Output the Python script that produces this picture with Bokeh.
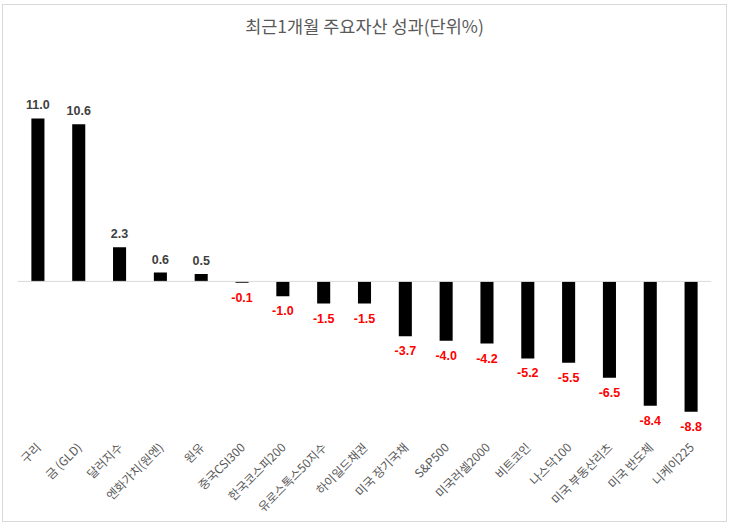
from bokeh.plotting import figure
from bokeh.models import ColumnDataSource, LabelSet, Span, Range1d, Title
from bokeh.core.properties import value
from bokeh.embed import file_html
from bokeh.resources import INLINE
import math

categories = ["구리", "금 (GLD)", "달러지수", "엔화가치(원엔)", "원유", "중국CSI300", "한국코스피200",
              "유로스톡스50지수", "하이일드채권", "미국 장기국채", "S&P500", "미국러셀2000", "비트코인",
              "나스닥100", "미국 부동산리츠", "미국 반도체", "니케이225"]
values = [11.0, 10.6, 2.3, 0.6, 0.5, -0.1, -1.0, -1.5, -1.5, -3.7, -4.0, -4.2, -5.2, -5.5, -6.5, -8.4, -8.8]
title_text = "최근1개월 주요자산 성과(단위%)"

labels = [f"{v:.1f}" for v in values]
pos_idx = [i for i, v in enumerate(values) if v >= 0]
neg_idx = [i for i, v in enumerate(values) if v < 0]

src = ColumnDataSource(dict(cat=categories, val=values))
pos_src = ColumnDataSource(dict(cat=[categories[i] for i in pos_idx], val=[values[i] for i in pos_idx],
                                lab=[labels[i] for i in pos_idx]))
neg_src = ColumnDataSource(dict(cat=[categories[i] for i in neg_idx], val=[values[i] for i in neg_idx],
                                lab=[labels[i] for i in neg_idx]))

YMAX, YMIN = 13.56, -10.2
p = figure(x_range=categories, y_range=Range1d(YMIN, YMAX), width=725, height=518,
           output_backend="svg", toolbar_location=None, title=None,
           min_border_left=14, min_border_right=17, min_border_top=75, min_border_bottom=89)

p.vbar(x="cat", top="val", width=0.32, source=src, fill_color="black", line_color=None)
p.add_layout(Span(location=0, dimension="width", line_color="#d9d9d9", line_width=1))

p.add_layout(LabelSet(x="cat", y="val", text="lab", source=pos_src, y_offset=9,
                      text_align="center", text_baseline="bottom", text_font_size=value("12.5px"),
                      text_font_style="bold", text_color="#404040", text_font=value("Liberation Sans")))
p.add_layout(LabelSet(x="cat", y="val", text="lab", source=neg_src, y_offset=-10,
                      text_align="center", text_baseline="top", text_font_size=value("12.5px"),
                      text_font_style="bold", text_color="#ff0000", text_font=value("Liberation Sans")))

# spacer (nearest the frame) then the real title above it
p.add_layout(Title(text=" ", text_font_size="1px", standoff=35), "above")
p.add_layout(Title(text=title_text, align="center", text_font="Noto Sans CJK KR",
                   text_font_size="17.5px", text_font_style="normal", text_color="#595959",
                   standoff=10), "above")

p.yaxis.visible = False
p.xgrid.visible = False
p.ygrid.visible = False
p.outline_line_color = None
p.xaxis.axis_line_color = None
p.xaxis.major_tick_line_color = None
p.xaxis.minor_tick_line_color = None
p.xaxis.major_label_orientation = math.pi / 4
p.xaxis.major_label_text_font = "Noto Sans CJK KR"
p.xaxis.major_label_text_font_size = "12px"
p.xaxis.major_label_text_color = "#595959"
p.xaxis.major_label_standoff = 6
p.styles = {"border": "1px solid #d9d9d9", "margin-left": "2px", "margin-top": "4px"}

open("out.html", "w").write(file_html(p, INLINE))
